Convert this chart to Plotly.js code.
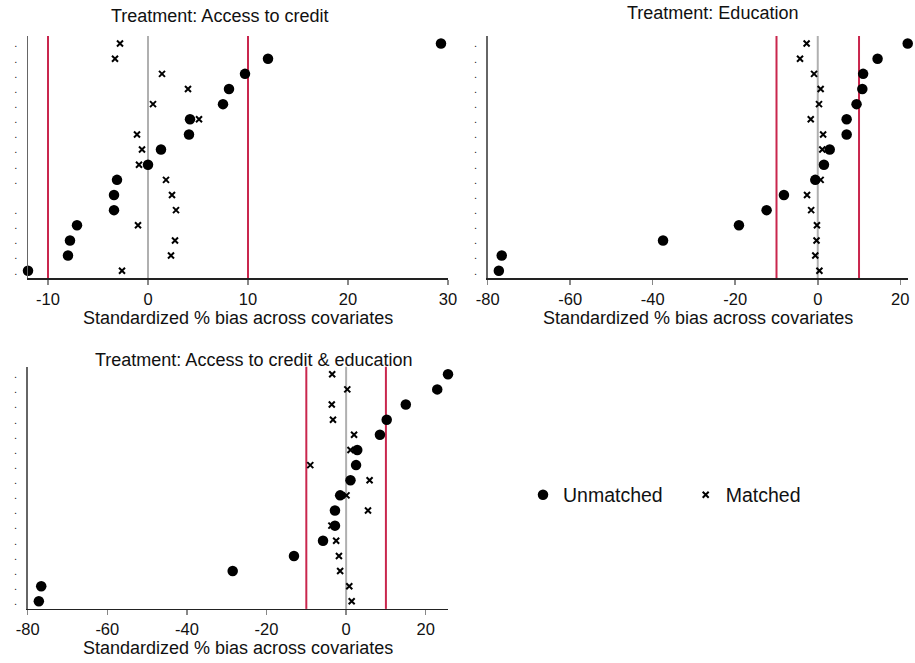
<!DOCTYPE html>
<html>
<head>
<meta charset="utf-8">
<script src="https://cdn.plot.ly/plotly-3.0.1.min.js"></script>
<style>html,body{margin:0;padding:0;background:#fff;}#chart{width:915px;height:663px;}</style>
</head>
<body>
<div id="chart"></div>
<script>
// Covariate rows (top = 16 ... bottom = 1)
var covariateRank = [16, 15, 14, 13, 12, 11, 10, 9, 8, 7, 6, 5, 4, 3, 2, 1];
var rowLabelsCredit = ['.', '.', '.', '.', '.', '.', '.', '.', '.', '.', '', '.', '.', '.', '.', '.'];
var rowLabelsEducation = ['.', '.', '.', '.', '.', '.', '.', '.', '.', '.', '.', '.', '.', '.', '.', '.'];
var rowLabelsBoth = ['.', '.', '.', '.', '.', '.', '.', '.', '.', '.', '.', '.', '.', '.', '.', '.'];

// Standardized % bias, panel 1: Access to credit
var creditUnmatched = [29.3, 12.0, 9.7, 8.1, 7.5, 4.2, 4.1, 1.3, 0.0, -3.1, -3.4, -3.4, -7.1, -7.8, -8.0, -12.0];
var creditMatched   = [-2.8, -3.3, 1.4, 4.0, 0.5, 5.1, -1.1, -0.6, -0.9, 1.8, 2.4, 2.8, -1.0, 2.7, 2.3, -2.6];
// panel 2: Education
var eduUnmatched = [21.8, 14.5, 11.0, 10.8, 9.4, 7.0, 7.0, 2.9, 1.5, -0.6, -8.2, -12.4, -19.1, -37.5, -76.6, -77.3];
var eduMatched   = [-2.7, -4.3, -0.9, 0.7, 0.3, -1.7, 1.3, 1.1, 1.3, 0.7, -2.6, -1.6, -0.2, -0.3, -0.6, 0.4];
// panel 3: Access to credit & education
var bothUnmatched = [25.6, 22.9, 15.0, 10.2, 8.5, 2.8, 2.5, 1.1, -1.5, -2.8, -2.8, -5.8, -13.1, -28.5, -76.6, -77.2];
var bothMatched   = [-3.5, 0.3, -3.6, -3.3, 2.0, 1.1, -9.0, 5.9, 0.1, 5.5, -3.7, -2.5, -1.8, -1.5, 0.8, 1.4];

var panelTitles = ['Treatment: Access to credit', 'Treatment: Education', 'Treatment: Access to credit & education'];
var xTitle = 'Standardized % bias across covariates';
var seriesNames = ['Unmatched', 'Matched'];
var ticksCredit = [-10, 0, 10, 20, 30];
var tickTextCredit = ['-10', '0', '10', '20', '30'];
var ticksWide = [-80, -60, -40, -20, 0, 20];
var tickTextWide = ['-80', '-60', '-40', '-20', '0', '20'];
var thresholdLines = [-10, 10];
var zeroLine = [0];

var FONT = 'Arial, "Liberation Sans", sans-serif';
var W = 915, H = 663;
function px(x) { return x / W; }
function py(y) { return (H - y) / H; }

var panels = [
  {u: creditUnmatched, m: creditMatched, labels: rowLabelsCredit, xa: 'x', ya: 'y', xr: [-12.0, 30], ticks: ticksCredit, tt: tickTextCredit,
   xd: [28, 448], yd: [36, 278.3], title: [219, 16], xt: [238, 318]},
  {u: eduUnmatched, m: eduMatched, labels: rowLabelsEducation, xa: 'x2', ya: 'y2', xr: [-80, 21.8], ticks: ticksWide, tt: tickTextWide,
   xd: [487.7, 907.7], yd: [36, 278.3], title: [712.7, 13], xt: [697.7, 318]},
  {u: bothUnmatched, m: bothMatched, labels: rowLabelsBoth, xa: 'x3', ya: 'y3', xr: [-80, 25.6], ticks: ticksWide, tt: tickTextWide,
   xd: [27.7, 448], yd: [366.7, 608.9], title: [253.7, 359.5], xt: [238, 648]}
];

var traces = [];
var layout = {
  width: W, height: H,
  margin: {l: 0, r: 0, t: 0, b: 0},
  paper_bgcolor: '#fff', plot_bgcolor: '#fff',
  font: {family: FONT, color: '#111'},
  showlegend: true,
  legend: {
    orientation: 'h', x: px(523), xanchor: 'left', y: py(495), yanchor: 'middle',
    font: {family: FONT, size: 19.5, color: '#111'},
    entrywidth: 117.7, entrywidthmode: 'pixels', bgcolor: 'rgba(0,0,0,0)', borderwidth: 0
  },
  shapes: [], annotations: []
};

panels.forEach(function (p, i) {
  var sfx = i === 0 ? '' : String(i + 1);
  traces.push({
    type: 'scatter', mode: 'markers', x: p.m, y: covariateRank, xaxis: p.xa, yaxis: p.ya,
    name: seriesNames[1], showlegend: i === 0, legendrank: 2, cliponaxis: false,
    marker: {symbol: 'x-thin-open', size: 6, color: '#000', line: {color: '#000', width: 2}},
    hoverinfo: 'skip'
  });
  traces.push({
    type: 'scatter', mode: 'markers', x: p.u, y: covariateRank, xaxis: p.xa, yaxis: p.ya,
    name: seriesNames[0], showlegend: i === 0, legendrank: 1, cliponaxis: false,
    marker: {symbol: 'circle', size: 10.5, color: '#000', line: {width: 0}},
    hoverinfo: 'skip'
  });
  layout['xaxis' + sfx] = {
    domain: [px(p.xd[0]), px(p.xd[1])], anchor: p.ya, range: p.xr,
    tickvals: p.ticks, ticktext: p.tt, ticks: 'outside', ticklen: 5, tickwidth: 1.5, tickcolor: '#888',
    showline: true, linecolor: '#222', linewidth: 1.5, showgrid: false, zeroline: false,
    tickfont: {family: FONT, size: 16.5, color: '#111'}, fixedrange: true
  };
  layout['yaxis' + sfx] = {
    domain: [py(p.yd[1]), py(p.yd[0])], anchor: p.xa, range: [0.5, 16.5],
    tickvals: covariateRank, ticktext: p.labels, ticks: '', ticklabelstandoff: 7,
    showline: true, linecolor: '#666', linewidth: 1.5, showgrid: false, zeroline: false,
    tickfont: {family: FONT, size: 11, color: '#222'}, fixedrange: true
  };
  zeroLine.forEach(function (v) {
    layout.shapes.push({type: 'line', xref: p.xa, yref: p.ya + ' domain', x0: v, x1: v, y0: 0, y1: 1,
      layer: 'below', line: {color: '#b0b0b0', width: 2}});
  });
  thresholdLines.forEach(function (v) {
    layout.shapes.push({type: 'line', xref: p.xa, yref: p.ya + ' domain', x0: v, x1: v, y0: 0, y1: 1,
      layer: 'below', line: {color: '#c9264d', width: 2}});
  });
  layout.annotations.push({text: panelTitles[i], xref: 'paper', yref: 'paper', x: px(p.title[0]), y: py(p.title[1]),
    xanchor: 'center', yanchor: 'middle', showarrow: false, font: {family: FONT, size: 18, color: '#111'}});
  layout.annotations.push({text: xTitle, xref: 'paper', yref: 'paper', x: px(p.xt[0]), y: py(p.xt[1]),
    xanchor: 'center', yanchor: 'middle', showarrow: false, font: {family: FONT, size: 18, color: '#111'}});
});

Plotly.newPlot('chart', traces, layout, {staticPlot: true, displayModeBar: false});
</script>
</body>
</html>
